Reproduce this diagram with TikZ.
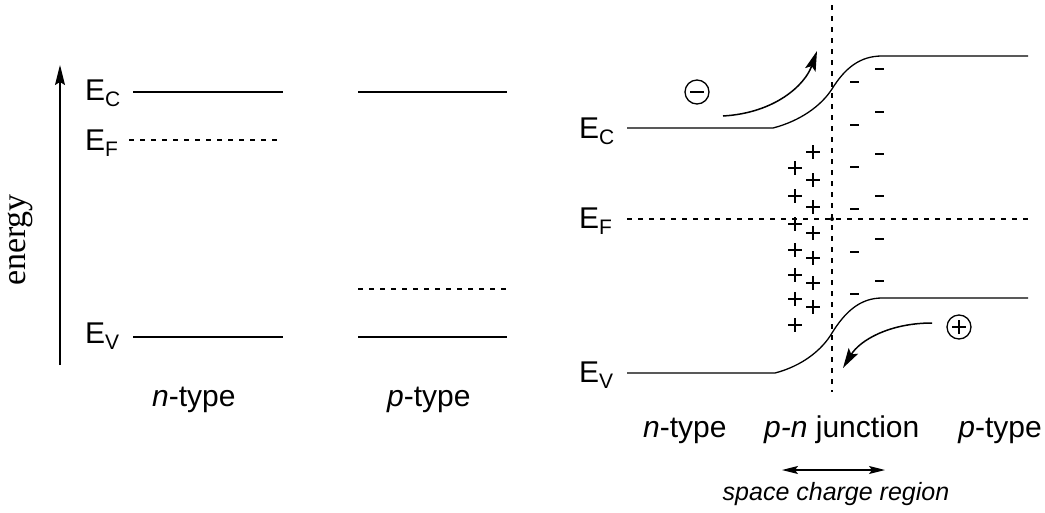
\documentclass[tikz,border=0pt]{standalone}
\usepackage{fontspec}
\setmainfont{Liberation Sans}
\newfontfamily\seriffam{Liberation Serif}
\usetikzlibrary{arrows.meta}
\newcommand\lev[1]{E\raisebox{-6pt}{\fontsize{21}{21}\selectfont #1}}
\begin{document}
\begin{tikzpicture}[x=1pt,y=-1pt,
  level/.style={line width=1.3pt},
  dashlvl/.style={line width=1.1pt, dash pattern=on 5pt off 6pt},
  lbl/.style={font=\fontsize{30}{36}\selectfont, inner sep=0pt, anchor=base west},
  small/.style={font=\fontsize{25}{30}\selectfont\itshape, inner sep=0pt, anchor=base},
  tip/.style={-{Stealth[length=20pt,width=11pt,inset=4pt]}, line width=1.5pt},
  plussign/.style={line width=1.3pt},
  minussign/.style={line width=2.8pt}]
\useasboundingbox (0,0) rectangle (1045,512);

% ---------- left panel ----------
\draw[-{Stealth[length=20pt,width=10pt,inset=3pt]}, line width=1.3pt] (60,365) coordinate (ax0) -- (60,65) coordinate (ax1);
\node[rotate=90, font=\seriffam\fontsize{34}{40}\selectfont, inner sep=0pt] (energy) at (20,240) {energy};

\node[lbl] (lEc) at (85,100) {\lev{C}};
\node[lbl] (lEf) at (85,150) {\lev{F}};
\node[lbl] (lEv) at (85,343) {\lev{V}};

\coordinate (nc1) at (133,92);  \coordinate (nc2) at (283,92);
\coordinate (nf1) at (129,140); \coordinate (nf2) at (279,140);
\coordinate (nv1) at (133,337); \coordinate (nv2) at (283,337);
\draw[level] (nc1) -- (nc2);
\draw[dashlvl] (nf1) -- (nf2);
\draw[level] (nv1) -- (nv2);

\coordinate (pc1) at (358,92);  \coordinate (pc2) at (507,92);
\coordinate (pf1) at (358,289); \coordinate (pf2) at (507,289);
\coordinate (pv1) at (358,337); \coordinate (pv2) at (507,337);
\draw[level] (pc1) -- (pc2);
\draw[dashlvl] (pf1) -- (pf2);
\draw[level] (pv1) -- (pv2);

\node[lbl] (ntypeL) at (152,406) {\textit{n}-type};
\node[lbl] (ptypeL) at (387,406) {\textit{p}-type};

% ---------- right panel ----------
\node[lbl] (rEc) at (579,138) {\lev{C}};
\node[lbl] (rEf) at (579,228) {\lev{F}};
\node[lbl] (rEv) at (579,382) {\lev{V}};

% junction line
\draw[dashlvl] (832,5) coordinate (j1) -- (832,392) coordinate (j2);
% Fermi level
\draw[dashlvl] (627,219) coordinate (f1) -- (1028,219) coordinate (f2);
\fill (832,219) circle (2pt);

% conduction band
\draw[level] (627,128) -- (773,128) .. controls (800,121) and (821,106) .. (832,89)
  .. controls (845,68) and (860,56) .. (882,56) -- (1028,56);
% valence band
\draw[level] (627,373) -- (775,373) .. controls (802,366) and (822,350) .. (832,333)
  .. controls (845,312) and (860,298) .. (882,298) -- (1028,298);

% electron
\node[circle, draw, line width=1.3pt, minimum size=24pt, inner sep=0pt] (el) at (697,92) {};
\draw[line width=1.5pt] ([xshift=-7pt]el.center) -- ([xshift=7pt]el.center);
\draw[tip] (723,116) .. controls (775,113) and (805,85) .. (817,51);

% hole
\node[circle, draw, line width=1.3pt, minimum size=24pt, inner sep=0pt] (ho) at (959,327) {};
\draw[line width=1.3pt] ([xshift=-7pt]ho.center) -- ([xshift=7pt]ho.center)
  ([yshift=-7pt]ho.center) -- ([yshift=7pt]ho.center);
\draw[tip] (932,323) .. controls (890,323) and (860,340) .. (843,368);

% positive charges
\foreach \y in {152,180,207,233,258,283,307}
  \draw[plussign] (806,\y) -- (820,\y) (813,\y-7) -- (813,\y+7);
\foreach \y in {168,196,224,250,275,299,325}
  \draw[plussign] (788,\y) -- (802,\y) (795,\y-7) -- (795,\y+7);

% negative charges
\foreach \y in {82,125,167,209,252,294}
  \draw[minussign] (850,\y) -- (859,\y);
\foreach \y in {69,112,154,196,239,281}
  \draw[minussign] (875,\y) -- (884,\y);

\node[lbl] (ntypeR) at (643,437) {\textit{n}-type};
\node[lbl] (pnj) at (764,437) {\textit{p-n} junction};
\node[lbl, anchor=base east] (ptypeR) at (1042,437) {\textit{p}-type};

\draw[{Stealth[length=16pt,width=8pt,inset=3pt]}-{Stealth[length=16pt,width=8pt,inset=3pt]}, line width=1.3pt]
  (782,470) coordinate (s1) -- (885,470) coordinate (s2);
\node[small] (scr) at (836,500) {space charge region};
\end{tikzpicture}
\end{document}
